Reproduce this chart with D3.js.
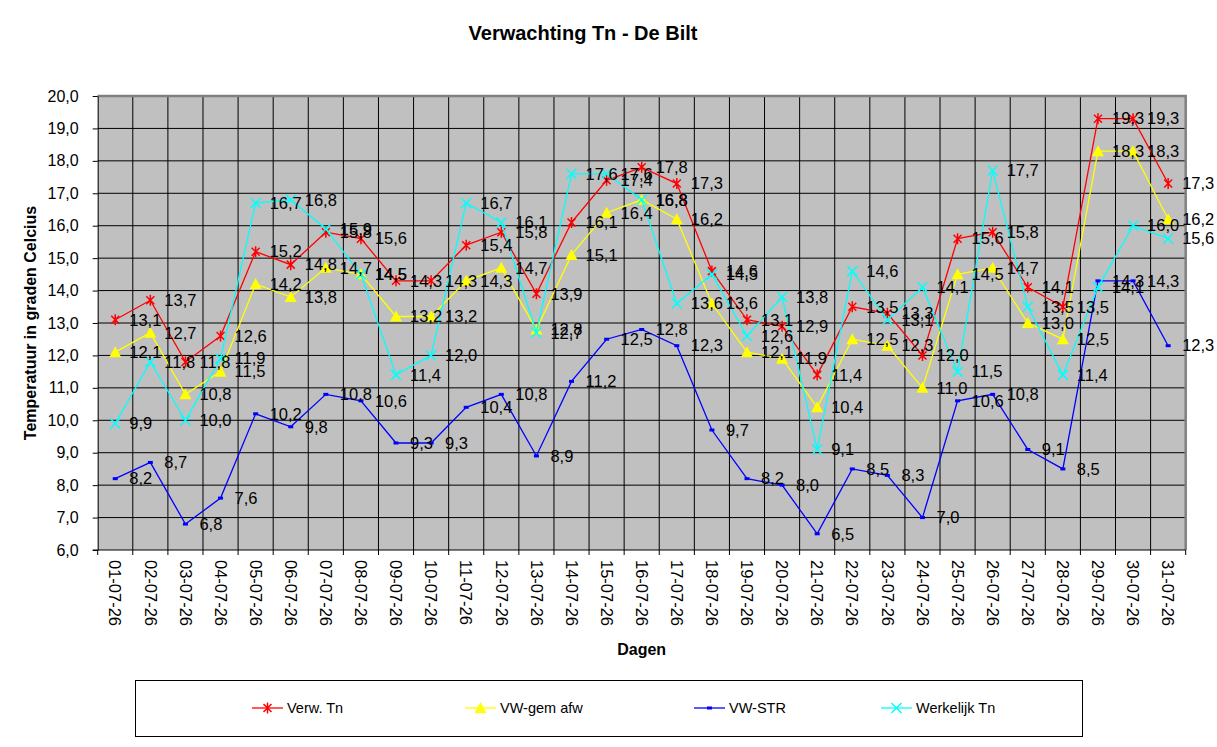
<!DOCTYPE html>
<html lang="nl">
<head>
    <meta charset="UTF-8">
    <title>Verwachting Tn - De Bilt</title>
    <script src="https://cdn.jsdelivr.net/npm/d3@7"></script>
    <style>
        body { margin: 0; background: #fff; }
        text { font-family: Arial, "Liberation Sans", sans-serif; }
    </style>
</head>
<body>
<script>
    // dagen (x-as)
    var dagen = ["01-07-26", "02-07-26", "03-07-26", "04-07-26", "05-07-26", "06-07-26", "07-07-26", "08-07-26",
        "09-07-26", "10-07-26", "11-07-26", "12-07-26", "13-07-26", "14-07-26", "15-07-26", "16-07-26",
        "17-07-26", "18-07-26", "19-07-26", "20-07-26", "21-07-26", "22-07-26", "23-07-26", "24-07-26",
        "25-07-26", "26-07-26", "27-07-26", "28-07-26", "29-07-26", "30-07-26", "31-07-26"];

    // reeksen
    var verwTn = [13.1, 13.7, 11.8, 12.6, 15.2, 14.8, 15.8, 15.6, 14.3, 14.3, 15.4, 15.8, 13.9, 16.1, 17.4, 17.8,
        17.3, 14.6, 13.1, 12.9, 11.4, 13.5, 13.3, 12.0, 15.6, 15.8, 14.1, 13.5, 19.3, 19.3, 17.3];
    var vwGemAfw = [12.1, 12.7, 10.8, 11.5, 14.2, 13.8, 14.7, 14.5, 13.2, 13.2, 14.3, 14.7, 12.8, 15.1, 16.4, 16.8,
        16.2, 13.6, 12.1, 11.9, 10.4, 12.5, 12.3, 11.0, 14.5, 14.7, 13.0, 12.5, 18.3, 18.3, 16.2];
    var vwStr = [8.2, 8.7, 6.8, 7.6, 10.2, 9.8, 10.8, 10.6, 9.3, 9.3, 10.4, 10.8, 8.9, 11.2, 12.5, 12.8,
        12.3, 9.7, 8.2, 8.0, 6.5, 8.5, 8.3, 7.0, 10.6, 10.8, 9.1, 8.5, 14.3, 14.3, 12.3];
    var werkelijkTn = [9.9, 11.8, 10.0, 11.9, 16.7, 16.8, 15.9, 14.5, 11.4, 12.0, 16.7, 16.1, 12.7, 17.6, 17.6, 16.8,
        13.6, 14.5, 12.6, 13.8, 9.1, 14.6, 13.1, 14.1, 11.5, 17.7, 13.5, 11.4, 14.1, 16.0, 15.6];

    var yTicks = [6, 7, 8, 9, 10, 11, 12, 13, 14, 15, 16, 17, 18, 19, 20];

    var reeksen = [
        {naam: "Verw. Tn", waarden: verwTn, kleur: "#ff0000", marker: "ster", legendX: 252},
        {naam: "VW-gem afw", waarden: vwGemAfw, kleur: "#ffff00", marker: "driehoek", legendX: 465},
        {naam: "VW-STR", waarden: vwStr, kleur: "#0000ff", marker: "blok", legendX: 694},
        {naam: "Werkelijk Tn", waarden: werkelijkTn, kleur: "#00ffff", marker: "kruis", legendX: 881}
    ];

    // canvas
    var width = 1217;
    var height = 747;
    var links = 97.7, rechts = 1185.7, boven = 96, onder = 550;

    var svg = d3.select("body")
        .append("svg")
        .attr("width", width)
        .attr("height", height);

    var x = d3.scaleBand().domain(dagen).range([links, rechts]);
    var y = d3.scaleLinear().domain([6, 20]).range([onder, boven]);
    var fmt = function (v) { return v.toFixed(1).replace(".", ","); };
    var cx = function (i) { return x(dagen[i]) + x.bandwidth() / 2; };

    // achtergrond plot
    svg.append("rect")
        .attr("x", links).attr("y", boven)
        .attr("width", rechts - links).attr("height", onder - boven)
        .attr("fill", "#c0c0c0");

    // horizontale rasterlijnen
    svg.append("g").selectAll("line")
        .data(yTicks.slice(1))
        .enter().append("line")
        .attr("x1", links).attr("x2", rechts)
        .attr("y1", function (d) { return y(d); })
        .attr("y2", function (d) { return y(d); })
        .attr("stroke", "#000").attr("stroke-width", 1);

    // verticale rasterlijnen op de categoriegrenzen
    var grenzen = dagen.map(function (d) { return x(d); }).slice(1);
    svg.append("g").selectAll("line")
        .data(grenzen)
        .enter().append("line")
        .attr("x1", function (d) { return d; })
        .attr("x2", function (d) { return d; })
        .attr("y1", boven).attr("y2", onder + 5)
        .attr("stroke", "#000").attr("stroke-width", 1);

    // rand boven/rechts
    svg.append("path")
        .attr("d", "M" + links + "," + boven + "H" + rechts + "V" + onder)
        .attr("fill", "none").attr("stroke", "#808080").attr("stroke-width", 2.5);

    // y-as
    var yAs = svg.append("g")
        .attr("transform", "translate(" + links + ",0)")
        .call(d3.axisLeft(y).tickValues(yTicks).tickSize(5).tickSizeOuter(0).tickFormat(fmt));
    yAs.select(".domain").attr("stroke", "#000");
    yAs.selectAll("text").attr("font-size", "16px").attr("fill", "#000").attr("x", -19)
        .style("font-family", "Arial, 'Liberation Sans', sans-serif");

    // x-as
    svg.append("line")
        .attr("x1", links - 5).attr("x2", rechts)
        .attr("y1", onder).attr("y2", onder)
        .attr("stroke", "#000");
    svg.append("line")
        .attr("x1", links).attr("x2", links)
        .attr("y1", onder).attr("y2", onder + 5)
        .attr("stroke", "#000");
    svg.append("line")
        .attr("x1", rechts).attr("x2", rechts)
        .attr("y1", onder).attr("y2", onder + 5)
        .attr("stroke", "#000");

    svg.append("g").selectAll("text")
        .data(dagen)
        .enter().append("text")
        .attr("transform", function (d) {
            return "translate(" + (x(d) + x.bandwidth() / 2) + "," + (onder + 10) + ") rotate(90)";
        })
        .attr("dy", "0.35em")
        .attr("font-size", "16.5px")
        .text(function (d) { return d; });

    // lijnen en markers
    var lijn = d3.line()
        .x(function (d, i) { return cx(i); })
        .y(function (d) { return y(d); });

    function tekenMarker(g, soort, kleur) {
        if (soort === "ster") {
            g.append("path").attr("d", "M-4,-4L4,4M-4,4L4,-4M0,-5.5V5.5")
                .attr("stroke", kleur).attr("stroke-width", 1.5).attr("fill", "none");
        } else if (soort === "driehoek") {
            g.append("path").attr("d", "M0,-6L6,5H-6Z").attr("fill", kleur);
        } else if (soort === "blok") {
            g.append("rect").attr("x", -2.5).attr("y", -1.5).attr("width", 5).attr("height", 3).attr("fill", kleur);
        } else {
            g.append("path").attr("d", "M-5,-5L5,5M-5,5L5,-5")
                .attr("stroke", kleur).attr("stroke-width", 1.5).attr("fill", "none");
        }
    }

    reeksen.forEach(function (r) {
        svg.append("path")
            .datum(r.waarden)
            .attr("d", lijn)
            .attr("fill", "none")
            .attr("stroke", r.kleur)
            .attr("stroke-width", 1.3);

        r.waarden.forEach(function (v, i) {
            var g = svg.append("g").attr("transform", "translate(" + cx(i) + "," + y(v) + ")");
            tekenMarker(g, r.marker, r.kleur);
        });
    });

    // datalabels
    reeksen.forEach(function (r) {
        svg.append("g").selectAll("text")
            .data(r.waarden)
            .enter().append("text")
            .attr("x", function (d, i) { return cx(i) + 14; })
            .attr("y", function (d) { return y(d); })
            .attr("dy", "0.35em")
            .attr("font-size", "16.5px")
            .attr("fill", "#000")
            .text(fmt);
    });

    // titels
    svg.append("text")
        .attr("x", 583).attr("y", 40)
        .attr("text-anchor", "middle")
        .attr("font-size", "20px").attr("font-weight", "bold")
        .text("Verwachting Tn - De Bilt");

    svg.append("text")
        .attr("transform", "translate(36," + ((boven + onder) / 2) + ") rotate(-90)")
        .attr("text-anchor", "middle")
        .attr("font-size", "16px").attr("font-weight", "bold")
        .text("Temperatuur in graden Celcius");

    svg.append("text")
        .attr("x", (links + rechts) / 2).attr("y", 655)
        .attr("text-anchor", "middle")
        .attr("font-size", "16px").attr("font-weight", "bold")
        .text("Dagen");

    // legenda
    svg.append("rect")
        .attr("x", 135.5).attr("y", 680.5)
        .attr("width", 947).attr("height", 56)
        .attr("fill", "#fff").attr("stroke", "#000").attr("stroke-width", 1);

    reeksen.forEach(function (r) {
        var ly = 708;
        svg.append("line")
            .attr("x1", r.legendX).attr("x2", r.legendX + 31)
            .attr("y1", ly).attr("y2", ly)
            .attr("stroke", r.kleur).attr("stroke-width", 1.3);
        var g = svg.append("g").attr("transform", "translate(" + (r.legendX + 15.5) + "," + ly + ")");
        tekenMarker(g, r.marker, r.kleur);
        svg.append("text")
            .attr("x", r.legendX + 35).attr("y", ly)
            .attr("dy", "0.35em")
            .attr("font-size", "14.5px")
            .text(r.naam);
    });
</script>
</body>
</html>
